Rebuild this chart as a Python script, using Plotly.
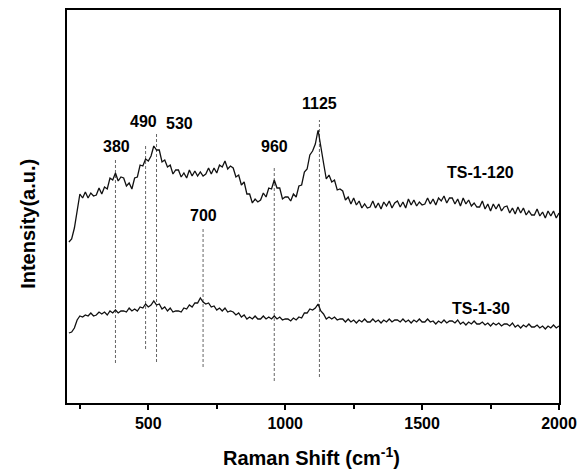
import plotly.graph_objects as go

# Raman shift grid (cm^-1), one reading every 10 cm^-1
shift = list(range(210, 2001, 10))

# TS-1-120 intensity (a.u.)
ts1_120 = [
    161, 164, 175, 192, 209, 205, 211, 205, 210, 207,
    208, 215, 209, 216, 214, 225, 223, 230, 222, 226,
    225, 217, 220, 214, 225, 226, 238, 237, 244, 242,
    247, 257, 253, 253, 241, 243, 236, 238, 229, 233,
    233, 226, 230, 225, 233, 227, 232, 227, 231, 227,
    229, 235, 229, 235, 230, 238, 236, 242, 234, 237,
    235, 226, 228, 218, 221, 209, 209, 200, 204, 201,
    203, 210, 206, 215, 214, 223, 215, 215, 204, 206,
    206, 202, 209, 206, 217, 218, 231, 234, 248, 252,
    259, 273, 255, 240, 224, 228, 221, 223, 213, 214,
    212, 203, 206, 199, 205, 198, 202, 195, 199, 195,
    196, 202, 195, 200, 194, 201, 197, 202, 195, 200,
    202, 196, 201, 195, 204, 198, 203, 197, 201, 198,
    199, 205, 199, 204, 198, 205, 202, 207, 200, 205,
    205, 199, 204, 197, 205, 199, 203, 197, 200, 196,
    196, 202, 194, 199, 192, 199, 194, 199, 192, 196,
    197, 190, 195, 189, 196, 190, 195, 188, 192, 188,
    188, 194, 187, 191, 185, 192, 187, 192, 185, 190,
]

# TS-1-30 intensity (a.u.)
ts1_30 = [
    70, 71, 75, 83, 87, 86, 88, 87, 90, 87,
    88, 91, 89, 91, 88, 92, 90, 93, 90, 92,
    92, 91, 95, 92, 94, 92, 96, 95, 99, 96,
    98, 102, 98, 99, 94, 96, 92, 95, 91, 92,
    92, 91, 95, 94, 98, 96, 100, 100, 105, 101,
    99, 100, 96, 97, 93, 95, 92, 95, 91, 92,
    91, 88, 90, 86, 88, 84, 86, 84, 87, 84,
    84, 87, 84, 86, 84, 87, 84, 86, 83, 84,
    84, 82, 85, 83, 86, 85, 90, 90, 94, 93,
    95, 99, 92, 89, 84, 86, 84, 86, 83, 84,
    84, 81, 84, 81, 83, 80, 83, 81, 84, 81,
    81, 84, 81, 83, 80, 83, 81, 84, 81, 83,
    83, 81, 84, 81, 83, 80, 83, 81, 84, 81,
    81, 84, 81, 82, 79, 82, 80, 83, 80, 82,
    82, 80, 83, 79, 81, 78, 81, 79, 82, 79,
    79, 81, 78, 80, 77, 80, 78, 80, 77, 79,
    79, 77, 80, 76, 78, 75, 78, 76, 79, 76,
    76, 78, 75, 77, 74, 77, 75, 78, 75, 77,
]

# Assigned band positions (cm^-1) and the span of each marker line (a.u.)
peaks = [380, 490, 530, 700, 960, 1125]
peak_top = [244, 259, 270, 174, 237, 283]
peak_bottom = [40, 54, 41, 36, 22, 26]
# Where each band label sits (x in cm^-1, y in a.u.)
label_x = [383, 482, 613, 700, 960, 1125]
label_y = [257, 282, 280, 188, 257, 300]

series_names = ["TS-1-120", "TS-1-30"]
series_label_x = [1715, 1715]
series_label_y = [231, 95]

FONT = "Liberation Sans, Arial, Helvetica, sans-serif"

fig = go.Figure()

# band marker lines
for p, top, bot in zip(peaks, peak_top, peak_bottom):
    fig.add_trace(go.Scatter(
        x=[p, p], y=[bot, top], mode="lines",
        line=dict(color="#666666", width=1, dash="3px,2px"),
        showlegend=False, hoverinfo="skip",
    ))

for name, vals in zip(series_names, [ts1_120, ts1_30]):
    fig.add_trace(go.Scatter(
        x=shift, y=vals, mode="lines", name=name,
        line=dict(color="#111111", width=1.3),
        showlegend=False,
    ))

annotations = []
for p, lx, ly in zip(peaks, label_x, label_y):
    annotations.append(dict(
        x=lx, y=ly, xref="x", yref="y", text=str(p), showarrow=False,
        font=dict(family=FONT, size=16, color="black", weight="bold"),
    ))
for name, lx, ly in zip(series_names, series_label_x, series_label_y):
    annotations.append(dict(
        x=lx, y=ly, xref="x", yref="y", text=name, showarrow=False,
        font=dict(family=FONT, size=16, color="black", weight="bold"),
    ))

annotations.append(dict(
    x=0.497, y=-0.135, xref="paper", yref="paper",
    text="Raman Shift (cm<sup>-1</sup>)", showarrow=False,
    yanchor="middle",
    font=dict(family=FONT, size=20, color="black", weight="bold"),
))
annotations.append(dict(
    x=-0.078, y=0.455, xref="paper", yref="paper",
    text="Intensity(a.u.)", showarrow=False, textangle=-90,
    xanchor="center", yanchor="middle",
    font=dict(family=FONT, size=20, color="black", weight="bold"),
))

fig.update_layout(
    width=579, height=473,
    margin=dict(l=67, r=20, t=10, b=70),
    paper_bgcolor="white", plot_bgcolor="white",
    annotations=annotations,
    xaxis=dict(
        range=[203, 2000], tickvals=[500, 1000, 1500, 2000],
        ticks="outside", ticklen=5, tickwidth=1.5, tickcolor="black",
        minor=dict(tickvals=[250, 750, 1250, 1750], ticks="outside",
                   ticklen=4, tickwidth=1.5, tickcolor="black"),
        showline=True, linecolor="black", linewidth=1.5, mirror=True,
        showgrid=False, zeroline=False, automargin=False,
        tickfont=dict(family=FONT, size=16, color="black", weight="bold"),
    ),
    yaxis=dict(
        range=[0, 393], showticklabels=False, ticks="",
        showline=True, linecolor="black", linewidth=1.5, mirror=True,
        showgrid=False, zeroline=False, automargin=False,
    ),
)

fig.write_html("out.html")
